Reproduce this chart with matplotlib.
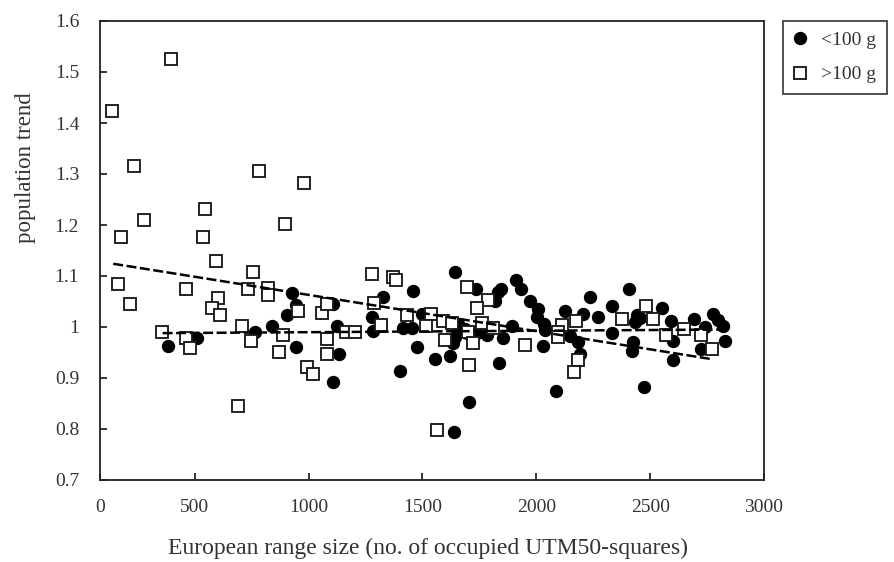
import matplotlib
matplotlib.use("Agg")
import matplotlib.pyplot as plt
import numpy as np

plt.rcParams['font.family'] = ['Liberation Serif', 'DejaVu Serif']

# ---- data ----
small_x = [384, 508, 765, 841, 905, 926, 945, 945, 1106, 1106, 1126, 1135, 1277, 1284,
           1326, 1402, 1416, 1453, 1460, 1478, 1500, 1555, 1621, 1636, 1639, 1645, 1658,
           1665, 1687, 1694, 1706, 1735, 1738, 1782, 1819, 1834, 1846, 1835, 1855, 1892,
           1911, 1933, 1973, 2008, 2002, 2036, 2038, 2028, 2085, 2126, 2146, 2181, 2190,
           2207, 2236, 2272, 2331, 2331, 2407, 2419, 2426, 2434, 2441, 2456, 2475, 2551,
           2590, 2599, 2599, 2693, 2724, 2740, 2778, 2800, 2819, 2829, 1643]
small_y = [0.963, 0.978, 0.990, 1.002, 1.024, 1.067, 1.0425, 0.960, 1.045, 0.892, 1.002,
           0.948, 1.020, 0.993, 1.058, 0.913, 0.9975, 0.9975, 1.070, 0.960, 1.0255, 0.937,
           0.943, 0.968, 0.794, 1.1085, 1.006, 0.994, 0.997, 0.988, 0.8535, 1.074, 0.988,
           0.984, 1.050, 1.069, 1.074, 0.930, 0.978, 1.002, 1.092, 1.074, 1.050, 1.036,
           1.019, 1.006, 0.994, 0.963, 0.8745, 1.032, 0.982, 0.971, 0.948, 1.0255, 1.058,
           1.019, 1.041, 0.988, 1.074, 0.952, 0.971, 1.010, 1.0235, 1.017, 0.883, 1.037,
           1.012, 0.973, 0.936, 1.015, 0.956, 0.9995, 1.0255, 1.014, 1.002, 0.973, 0.981]

large_x = [396, 138, 232, 782, 981, 546, 279, 896, 176, 535, 593, 755, 164, 460, 734, 822,
           822, 602, 214, 576, 955, 612, 1059, 1080, 708, 355, 888, 460, 479, 746, 869,
           1080, 1080, 992, 1021, 689, 1279, 1372, 1384, 1287, 1316, 1431, 1536, 1592,
           1628, 1516, 1163, 1204, 1599, 1705, 1563, 1694, 1789, 1741, 1701, 1760, 1811,
           1723, 1950, 2115, 2176, 2097, 2097, 2182, 2164, 2378, 2483, 2511, 2570, 2649,
           2724, 2771]
large_y = [1.526, 1.4235, 1.316, 1.305, 1.283, 1.232, 1.210, 1.202, 1.177, 1.177, 1.130,
           1.108, 1.084, 1.0745, 1.074, 1.076, 1.062, 1.0575, 1.0445, 1.0366, 1.032, 1.024,
           1.028, 1.046, 1.002, 0.991, 0.985, 0.978, 0.959, 0.973, 0.951, 0.977, 0.948,
           0.921, 0.908, 0.846, 1.1045, 1.0986, 1.092, 1.0465, 1.003, 1.0235, 1.0255,
           1.011, 1.007, 1.002, 0.990, 0.990, 0.974, 0.9255, 0.798, 1.079, 1.053, 1.037,
           0.991, 1.007, 0.999, 0.968, 0.964, 1.004, 1.012, 0.991, 0.981, 0.935, 0.912,
           1.015, 1.041, 1.015, 0.984, 0.997, 0.984, 0.957]

# trend lines (end points)
small_trend_x = [359, 2820]
small_trend_y = [0.988, 0.995]
large_trend_x = [142, 2770]
large_trend_y = [1.124, 0.937]

labels = ['<100 g', '>100 g']
x_tick_values = [84, 500, 1000, 1500, 2000, 2500, 3000]
x_tick_labels = ['0', '500', '1000', '1500', '2000', '2500', '3000']
y_ticks = [0.7, 0.8, 0.9, 1.0, 1.1, 1.2, 1.3, 1.4, 1.5, 1.6]
y_tick_labels = ['0.7', '0.8', '0.9', '1', '1.1', '1.2', '1.3', '1.4', '1.5', '1.6']

W, H = 895, 562
fig = plt.figure(figsize=(W / 100, H / 100), dpi=100)
ax = fig.add_axes([100 / W, 1 - 480 / H, 664 / W, 459 / H])

h1, = ax.plot(small_x, small_y, 'o', ms=8.6, color='black', mec='black', ls='none',
              label=labels[0], zorder=2)
h2, = ax.plot(large_x, large_y, 's', ms=8.0, mfc='white', mec='#1a1a1a', mew=1.35,
              ls='none', label=labels[1], zorder=3)
ax.plot(small_trend_x, small_trend_y, color='black', lw=1.8, dashes=(4, 1.4), zorder=4)
ax.plot(large_trend_x, large_trend_y, color='black', lw=1.8, dashes=(4, 1.4), zorder=4)

ax.set_xlim(84, 3000)
ax.set_ylim(0.7, 1.6)
ax.set_xticks(x_tick_values)
ax.set_xticklabels(x_tick_labels)
ax.set_yticks(y_ticks)
ax.set_yticklabels(y_tick_labels)
ax.tick_params(axis='both', direction='in', length=5, width=1.1, labelsize=14,
               colors='black', labelcolor='#333333')
ax.tick_params(axis='y', pad=15)
ax.tick_params(axis='x', pad=14)
for s in ax.spines.values():
    s.set_linewidth(1.3)
    s.set_color('#222222')

ax.set_xlabel('European range size (no. of occupied UTM50-squares)', fontsize=17,
              color='#333333')
ax.set_ylabel('population trend', fontsize=16.5, color='#333333')
ax.xaxis.set_label_coords(0.494, -0.127)
ax.yaxis.set_label_coords(-0.097, 0.68)

leg = fig.legend(handles=[h1, h2], labels=labels, loc='upper left',
                 bbox_to_anchor=(783 / W, 1 - 21 / H), fontsize=14,
                 frameon=True, fancybox=False, shadow=False, borderaxespad=0,
                 handlelength=0.6, handletextpad=0.8, borderpad=0.55, labelspacing=0.85)
for t in leg.get_texts():
    t.set_color('#333333')
leg.get_frame().set_edgecolor('black')
leg.get_frame().set_linewidth(1.2)

fig.savefig('out.png', dpi=100)
